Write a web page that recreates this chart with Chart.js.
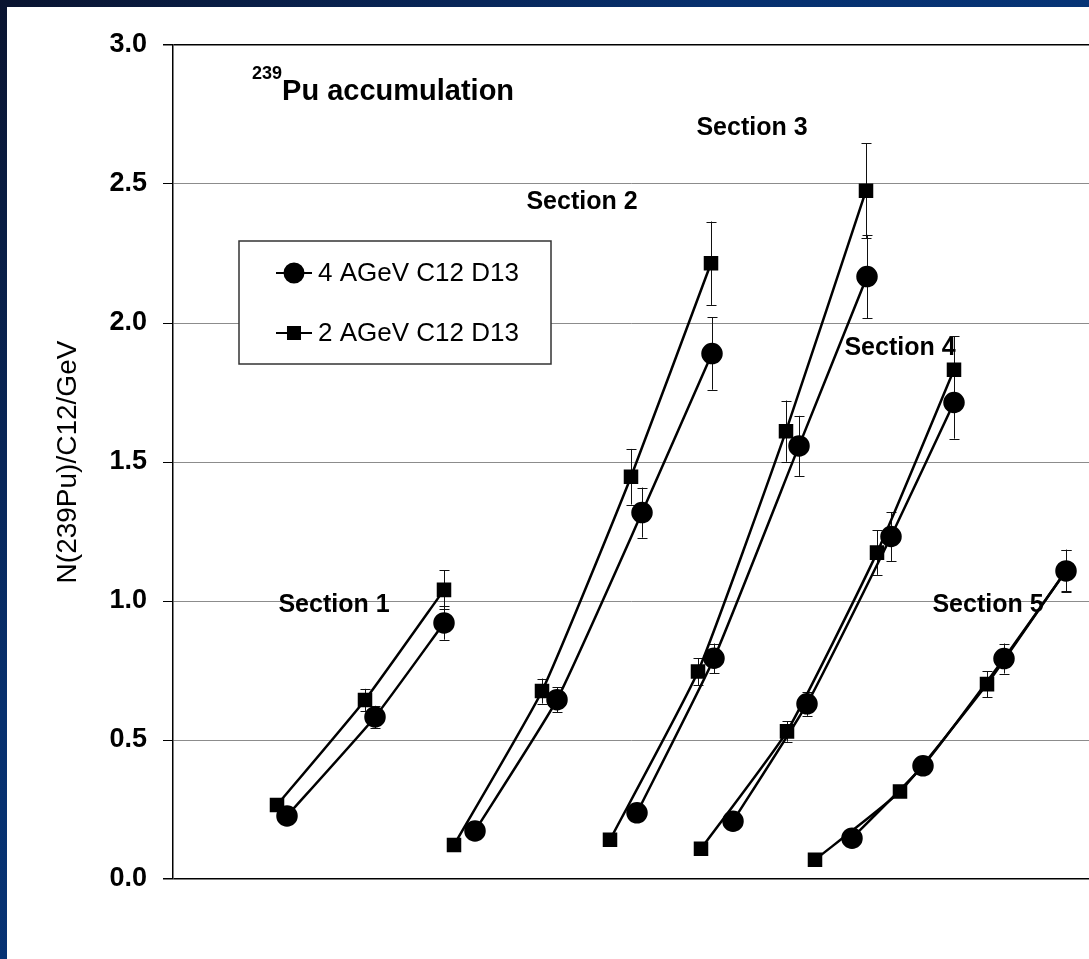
<!DOCTYPE html>
<html>
<head>
<meta charset="utf-8">
<script src="https://cdn.jsdelivr.net/npm/chart.js@4.4.1/dist/chart.umd.min.js"></script>
<style>
  html, body {
    margin: 0;
    padding: 0;
    width: 1089px;
    height: 959px;
    overflow: hidden;
    background: linear-gradient(135deg, #0a1430 0%, #07306e 35%, #043f8a 100%);
  }
  #frame {
    position: absolute;
    left: 7px;
    top: 7px;
    width: 1082px;
    height: 952px;
    background: #fff;
  }
</style>
</head>
<body>
<div id="frame"><canvas id="pu-chart" width="1082" height="952"></canvas></div>
<script>
// sections along the target, x = position (arbitrary units, no axis labels)
const sectionNames = ['Section 1', 'Section 2', 'Section 3', 'Section 4', 'Section 5'];
const sectionLabelX = [161, 409, 579, 727, 815];
const sectionLabelY = [0.986, 2.435, 2.701, 1.91, 0.986];

// 4 AGeV C12 D13 (circles)
const x4 = [[114, 202, 271], [302, 384, 469, 539], [464, 541, 626, 694], [560, 634, 718, 781], [679, 750, 831, 893]];
const y4 = [[0.227, 0.583, 0.921], [0.173, 0.645, 1.318, 1.89], [0.238, 0.794, 1.558, 2.167], [0.208, 0.63, 1.232, 1.714], [0.147, 0.407, 0.793, 1.108]];
const err4 = [[0.01, 0.04, 0.06], [0.01, 0.045, 0.09, 0.13], [0.01, 0.053, 0.108, 0.15], [0.01, 0.043, 0.088, 0.13], [0.01, 0.02, 0.054, 0.075]];

// 2 AGeV C12 D13 (squares)
const x2 = [[104, 192, 271], [281, 369, 458, 538], [437, 525, 613, 693], [528, 614, 704, 781], [642, 727, 814, 893]];
const y2 = [[0.266, 0.644, 1.04], [0.122, 0.676, 1.447, 2.215], [0.141, 0.746, 1.611, 2.476], [0.109, 0.531, 1.174, 1.832], [0.069, 0.315, 0.701, 1.11]];
const err2 = [[0.01, 0.04, 0.07], [0.01, 0.045, 0.1, 0.15], [0.01, 0.048, 0.11, 0.17], [0.01, 0.037, 0.08, 0.12], [0.01, 0.02, 0.047, 0.075]];

const yTicks = [0, 0.5, 1, 1.5, 2, 2.5, 3];

const FONT = "'Liberation Sans', Arial, sans-serif";

// one line per energy, broken between sections by a null point
function buildSeries(xs, ys, errs) {
  const data = [];
  const err = [];
  xs.forEach((sec, s) => {
    sec.forEach((x, i) => {
      data.push({ x: x, y: ys[s][i] });
      err.push(errs[s][i]);
    });
    if (s < xs.length - 1) {
      data.push({ x: sec[sec.length - 1], y: null });
      err.push(null);
    }
  });
  return { data, err };
}

const s4 = buildSeries(x4, y4, err4);
const s2 = buildSeries(x2, y2, err2);

// error bars under the markers
const errorBars = {
  id: 'errorBars',
  beforeDatasetsDraw(chart) {
    const ctx = chart.ctx;
    const yScale = chart.scales.y;
    ctx.save();
    ctx.strokeStyle = '#111';
    ctx.lineWidth = 1;
    chart.data.datasets.forEach((ds, di) => {
      const meta = chart.getDatasetMeta(di);
      ds.errors.forEach((e, i) => {
        const v = ds.data[i].y;
        if (e == null || v == null) return;
        const px = Math.round(meta.data[i].x) + 0.5;
        const top = yScale.getPixelForValue(v + e);
        const bot = yScale.getPixelForValue(v - e);
        ctx.beginPath();
        ctx.moveTo(px, top);
        ctx.lineTo(px, bot);
        ctx.moveTo(px - 5, Math.round(top) + 0.5);
        ctx.lineTo(px + 5, Math.round(top) + 0.5);
        ctx.moveTo(px - 5, Math.round(bot) + 0.5);
        ctx.lineTo(px + 5, Math.round(bot) + 0.5);
        ctx.stroke();
      });
    });
    ctx.restore();
  },
};

// title, section names and legend box
const decorations = {
  id: 'decorations',
  afterDraw(chart) {
    const ctx = chart.ctx;
    const area = chart.chartArea;
    const xs = chart.scales.x;
    const ys = chart.scales.y;
    ctx.save();
    ctx.fillStyle = '#000';

    // title with superscript mass number
    ctx.textBaseline = 'alphabetic';
    ctx.textAlign = 'left';
    ctx.font = 'bold 18px ' + FONT;
    const tx = area.left + 79;
    ctx.fillText('239', tx, area.top + 34);
    const supW = ctx.measureText('239').width;
    ctx.font = 'bold 29px ' + FONT;
    ctx.fillText('Pu accumulation', tx + supW, area.top + 55);

    // section labels
    ctx.font = 'bold 25px ' + FONT;
    ctx.textAlign = 'center';
    ctx.textBaseline = 'middle';
    sectionNames.forEach((name, i) => {
      ctx.fillText(name, xs.getPixelForValue(sectionLabelX[i]), ys.getPixelForValue(sectionLabelY[i]));
    });

    // legend
    const bx = area.left + 66;
    const by = area.top + 196;
    ctx.fillStyle = '#fff';
    ctx.fillRect(bx, by, 312, 123);
    ctx.strokeStyle = '#333';
    ctx.lineWidth = 1.5;
    ctx.strokeRect(bx, by, 312, 123);

    chart.data.datasets.forEach((ds, i) => {
      const ly = by + 32 + i * 60;
      ctx.strokeStyle = '#000';
      ctx.lineWidth = 2;
      ctx.beginPath();
      ctx.moveTo(bx + 37, ly);
      ctx.lineTo(bx + 73, ly);
      ctx.stroke();
      ctx.fillStyle = '#000';
      Chart.helpers.drawPoint(ctx, {
        pointStyle: ds.pointStyle,
        radius: ds.pointRadius,
        borderWidth: 1,
        rotation: 0,
      }, bx + 55, ly);
      ctx.fill();
      ctx.font = '26px ' + FONT;
      ctx.textAlign = 'left';
      ctx.textBaseline = 'middle';
      ctx.fillText(ds.label, bx + 79, ly + 1);
    });
    ctx.restore();
  },
};

const chart = new Chart(document.getElementById('pu-chart'), {
  type: 'line',
  data: {
    datasets: [
      {
        label: '4 AGeV C12 D13',
        data: s4.data,
        errors: s4.err,
        borderColor: '#000',
        backgroundColor: '#000',
        pointBackgroundColor: '#000',
        pointBorderColor: '#000',
        pointStyle: 'circle',
        pointRadius: 9.5,
        borderWidth: 2.5,
        tension: 0.15,
        spanGaps: false,
      },
      {
        label: '2 AGeV C12 D13',
        data: s2.data,
        errors: s2.err,
        borderColor: '#000',
        backgroundColor: '#000',
        pointBackgroundColor: '#000',
        pointBorderColor: '#000',
        pointStyle: 'rect',
        pointRadius: 8.5,
        borderWidth: 2.5,
        tension: 0.15,
        spanGaps: false,
      },
    ],
  },
  options: {
    responsive: false,
    animation: false,
    devicePixelRatio: 1,
    events: [],
    layout: {
      autoPadding: false,
      padding: { top: 38, bottom: 80, left: 0, right: 0 },
    },
    plugins: {
      legend: { display: false },
      tooltip: { enabled: false },
    },
    scales: {
      x: {
        type: 'linear',
        display: false,
        min: 0,
        max: 916,
      },
      y: {
        min: 0,
        max: 3,
        afterFit(scale) {
          scale.width = 166;
        },
        afterBuildTicks(scale) {
          scale.ticks = yTicks.map((v) => ({ value: v }));
        },
        border: { color: '#000', width: 1.5 },
        grid: {
          color: (c) => (c.tick && (c.tick.value === 0 || c.tick.value === 3) ? '#000' : '#8c8c8c'),
          lineWidth: (c) => (c.tick && (c.tick.value === 0 || c.tick.value === 3) ? 1.5 : 1),
          tickColor: '#000',
          tickLength: 10,
        },
        ticks: {
          color: '#000',
          padding: 16,
          font: { family: FONT, size: 27, weight: 'bold' },
          callback: (v) => v.toFixed(1),
        },
        title: {
          display: true,
          text: 'N(239Pu)/C12/GeV',
          color: '#000',
          font: { family: FONT, size: 28, weight: 'normal' },
          padding: { top: 44, bottom: 0 },
        },
      },
    },
  },
  plugins: [errorBars, decorations],
});
</script>
</body>
</html>
